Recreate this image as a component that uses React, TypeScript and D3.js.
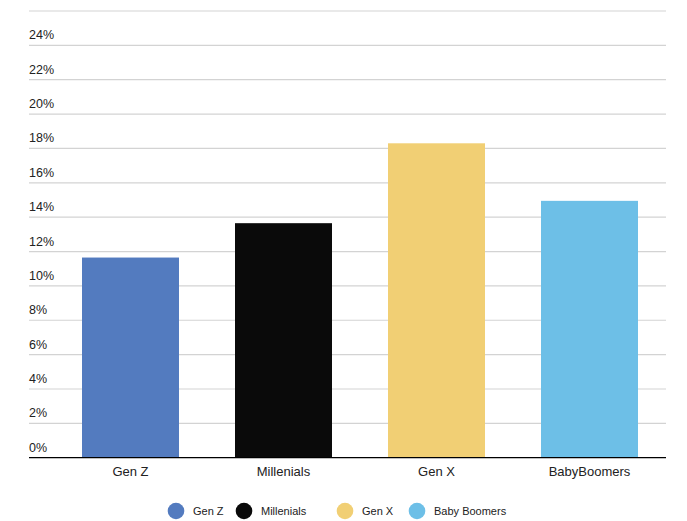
import React from "react";
import * as d3 from "d3";

const categories = ["Gen Z", "Millenials", "Gen X", "BabyBoomers"];
const values = [11.65, 13.65, 18.3, 14.95];
const colors = ["#537BBF", "#0A0A0A", "#F1CF74", "#6DBFE7"];
const legendLabels = ["Gen Z", "Millenials", "Gen X", "Baby Boomers"];
const yTicks = [0, 2, 4, 6, 8, 10, 12, 14, 16, 18, 20, 22, 24, 26];
const legendX = [176, 244, 345, 417];

export default function App() {
  const W = 687, H = 521;
  const x = d3.scaleBand<string>().domain(categories).range([54, 666]).paddingInner(0.366).paddingOuter(0.183);
  const y = d3.scaleLinear().domain([0, 26]).range([457.7, 11]);
  const font = "Helvetica, Arial, 'Liberation Sans', sans-serif";
  return (
    <svg width={W} height={H} style={{ position: "absolute", left: 0, top: 0 }} fontFamily={font}>
      <rect width={W} height={H} fill="#fff" />
      {yTicks.map((t) => (
        <g key={t}>
          {t > 0 && (
            <line x1={29} x2={666} y1={y(t)} y2={y(t)} stroke="#d3d3d3" strokeWidth={1.2} />
          )}
          {t < 26 && (
            <text x={29} y={y(t) - 6} fontSize={12.5} fill="#222">{t}%</text>
          )}
        </g>
      ))}
      {categories.map((c, i) => (
        <rect key={c} x={x(c)} y={y(values[i])} width={x.bandwidth()} height={y(0) - y(values[i])} fill={colors[i]} />
      ))}
      <line x1={29} x2={666} y1={y(0)} y2={y(0)} stroke="#000" strokeWidth={1.2} />
      {categories.map((c) => (
        <text key={c} x={(x(c) as number) + x.bandwidth() / 2} y={476} fontSize={13} textAnchor="middle" fill="#222">{c}</text>
      ))}
      {legendLabels.map((l, i) => (
        <g key={l}>
          <circle cx={legendX[i]} cy={511} r={8.3} fill={colors[i]} />
          <text x={legendX[i] + 17} y={515} fontSize={11} fill="#222">{l}</text>
        </g>
      ))}
    </svg>
  );
}
